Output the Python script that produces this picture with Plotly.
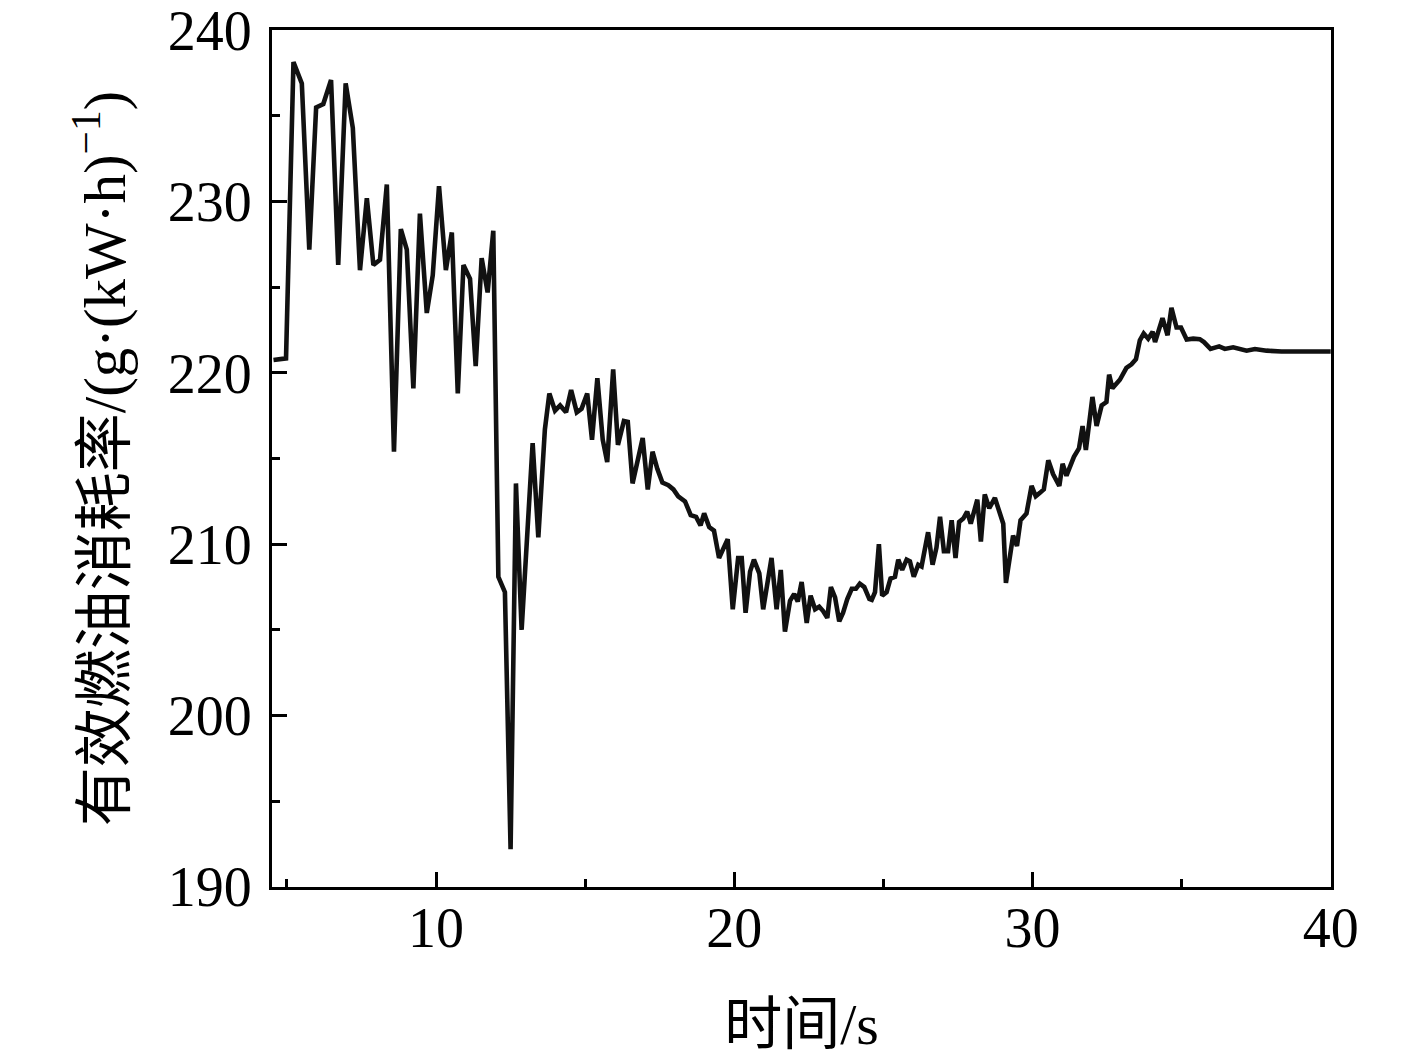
import plotly.graph_objects as go

time_s = [4.55, 4.97, 5.22, 5.50, 5.75, 5.98, 6.22, 6.48, 6.72, 6.97, 7.21, 7.45, 7.68, 7.90,
          8.12, 8.35, 8.59, 8.82, 9.02, 9.24, 9.46, 9.69, 9.89, 10.10, 10.33, 10.53, 10.73,
          10.92, 11.14, 11.33, 11.53, 11.73, 11.92, 12.09, 12.31, 12.50, 12.68, 12.87, 13.24,
          13.43, 13.65, 13.80, 13.99, 14.16, 14.36, 14.53, 14.72, 14.88, 15.07, 15.23, 15.41,
          15.59, 15.74, 15.94, 16.10, 16.30, 16.43, 16.59, 16.93, 17.10, 17.26, 17.42, 17.59,
          17.79, 17.96, 18.12, 18.35, 18.54, 18.72, 18.87, 18.99, 19.16, 19.32, 19.49, 19.78,
          19.95, 20.13, 20.25, 20.38, 20.53, 20.66, 20.84, 20.97, 21.25, 21.42, 21.56, 21.70,
          21.87, 22.01, 22.13, 22.26, 22.43, 22.56, 22.71, 22.85, 22.98, 23.12, 23.24, 23.38,
          23.52, 23.65, 23.79, 23.94, 24.08, 24.21, 24.36, 24.53, 24.61, 24.72, 24.85, 24.96,
          25.11, 25.24, 25.39, 25.50, 25.63, 25.78, 25.89, 26.02, 26.17, 26.28, 26.50, 26.65,
          26.78, 26.90, 27.03, 27.17, 27.29, 27.42, 27.54, 27.68, 27.81, 27.93, 28.15, 28.27,
          28.40, 28.55, 28.74, 29.02, 29.11, 29.35, 29.48, 29.60, 29.80, 29.97, 30.11, 30.25,
          30.38, 30.53, 30.69, 30.90, 31.01, 31.14, 31.39, 31.56, 31.68, 31.79, 32.01, 32.15,
          32.32, 32.48, 32.57, 32.68, 32.93, 33.15, 33.32, 33.47, 33.60, 33.73, 33.88, 34.03,
          34.11, 34.36, 34.53, 34.66, 34.83, 34.98, 35.17, 35.39, 35.61, 35.75, 35.97, 36.26,
          36.45, 36.73, 37.18, 37.46, 37.85, 38.35, 40.0]

bsfc = [220.75, 220.85, 238.15, 236.9, 227.2, 235.5, 235.7, 237.1, 226.3, 236.9, 234.3, 226.0,
        230.2, 226.3, 226.6, 231.0, 215.4, 228.4, 227.2, 219.1, 229.3, 223.5, 225.7, 230.9,
        226.0, 228.2, 218.8, 226.3, 225.5, 220.4, 226.7, 224.7, 228.3, 208.1, 207.2, 192.2,
        213.55, 205.0, 215.9, 210.4, 216.7, 218.8, 217.8, 218.1, 217.7, 219.0, 217.7, 217.9,
        218.8, 216.1, 219.7, 216.1, 214.8, 220.2, 215.8, 217.2, 217.15, 213.55, 216.2, 213.2,
        215.4, 214.4, 213.6, 213.45, 213.2, 212.8, 212.5, 211.7, 211.6, 211.1, 211.8, 211.0,
        210.8, 209.2, 210.3, 206.2, 209.2, 209.2, 206.0, 208.4, 209.1, 208.3, 206.2, 209.2,
        206.2, 208.5, 204.9, 206.7, 207.1, 206.65, 207.8, 205.4, 207.0, 206.2, 206.35, 206.1,
        205.7, 207.5, 206.9, 205.5, 206.0, 206.8, 207.4, 207.4, 207.7, 207.5, 206.8, 206.75,
        207.2, 210.0, 207.0, 207.2, 208.0, 208.1, 209.1, 208.5, 209.1, 209.0, 208.1, 208.8,
        208.7, 210.7, 208.8, 209.8, 211.6, 209.6, 209.6, 211.4, 209.2, 211.3, 211.5, 211.9,
        211.2, 212.6, 210.15, 212.9, 212.1, 212.7, 211.2, 207.75, 210.5, 209.9, 211.4, 211.8,
        213.4, 212.8, 213.0, 213.2, 214.9, 214.1, 213.4, 214.7, 214.0, 215.1, 215.6, 216.9,
        215.5, 218.6, 216.9, 218.1, 218.3, 219.9, 219.1, 219.6, 220.3, 220.5, 220.8, 221.9,
        222.3, 222.0, 222.4, 221.8, 223.2, 222.2, 223.8, 222.65, 222.65, 221.95, 222.0, 221.97,
        221.8, 221.4, 221.55, 221.4, 221.5, 221.3, 221.4, 221.3, 221.25, 221.25]

x_tickvals = [10, 20, 30, 40]
x_minor = [5, 15, 25, 35]
y_tickvals = [190, 200, 210, 220, 230, 240]
y_minor = [195, 205, 215, 225, 235]

FONT = "Liberation Serif, Times New Roman, Noto Sans CJK SC"

fig = go.Figure()
fig.add_trace(go.Scatter(x=time_s, y=bsfc, mode="lines",
                         line=dict(color="#111111", width=4.6), showlegend=False))

fig.update_layout(
    width=1417, height=1058,
    margin=dict(l=272, r=86, t=30, b=171, autoexpand=False),
    paper_bgcolor="white", plot_bgcolor="white",
    font=dict(family=FONT, size=56, color="black"),
)
fig.update_xaxes(
    range=[4.5, 40.01], tickvals=x_tickvals, ticks="inside", ticklen=15, tickwidth=3,
    tickcolor="black", showline=True, linecolor="black", linewidth=3, mirror=True,
    showgrid=False, zeroline=False,
    minor=dict(ticks="inside", ticklen=8, tickwidth=3, tickcolor="black",
               tickvals=x_minor, showgrid=False),
    tickfont=dict(family=FONT, size=56), ticklabelstandoff=-10, ticklabeloverflow="allow",
    title=dict(text="时间/s", font=dict(family=FONT, size=58), standoff=46),
    automargin=False,
)
fig.update_yaxes(
    range=[189.99, 240.02], tickvals=y_tickvals, ticks="inside", ticklen=15, tickwidth=3,
    tickcolor="black", showline=True, linecolor="black", linewidth=3, mirror=True,
    showgrid=False, zeroline=False,
    minor=dict(ticks="inside", ticklen=8, tickwidth=3, tickcolor="black",
               tickvals=y_minor, showgrid=False),
    tickfont=dict(family=FONT, size=56), ticklabelstandoff=6, ticklabeloverflow="allow",
    title=dict(text="有效燃油消耗率/(g·(kW·h)<sup>−1</sup>)", font=dict(family=FONT, size=59), standoff=24),
    automargin=False,
)

fig.write_html("out.html", config={"displayModeBar": False},
               post_script="document.body.style.margin='0px';document.body.style.padding='0px';")
